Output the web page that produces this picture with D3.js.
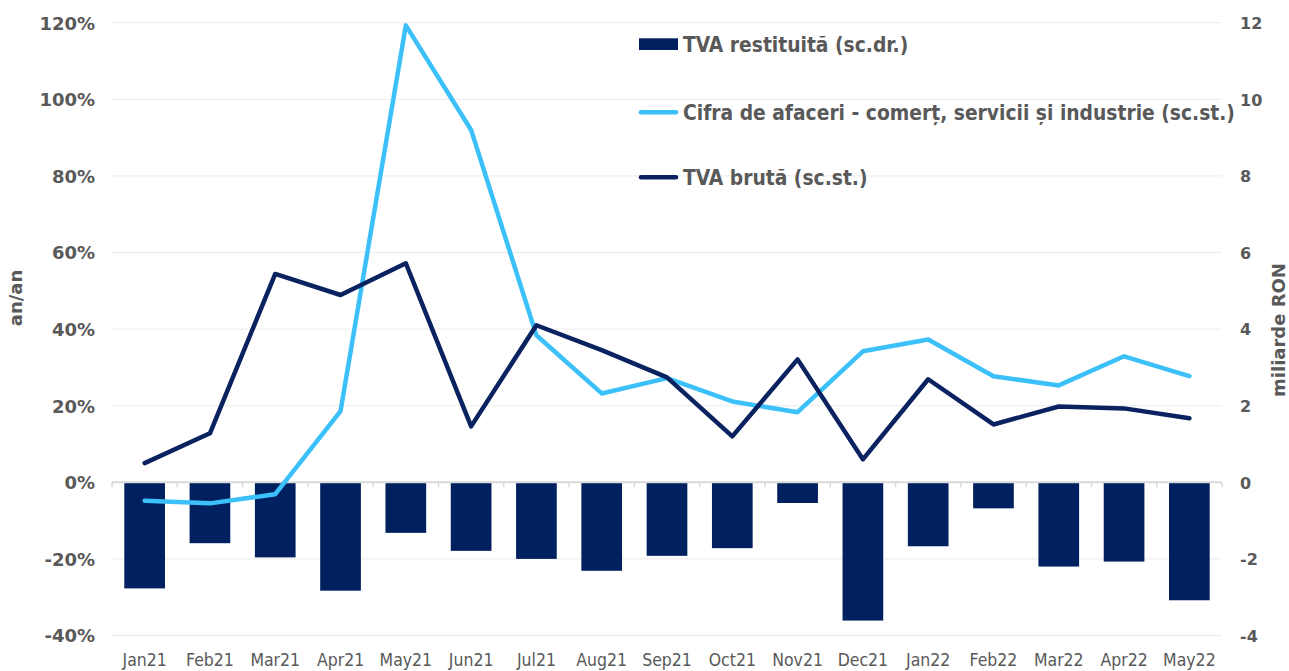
<!DOCTYPE html>
<html>
<head>
<meta charset="utf-8">
<script src="https://cdn.jsdelivr.net/npm/d3@7"></script>
<style>
  html, body { margin: 0; padding: 0; background: #fff; }
  svg { display: block; }
</style>
</head>
<body>
<svg id="chart" width="1289" height="671"></svg>
<script>
// ---- data ----
const categories = ["Jan21","Feb21","Mar21","Apr21","May21","Jun21","Jul21","Aug21","Sep21","Oct21","Nov21","Dec21","Jan22","Feb22","Mar22","Apr22","May22"];
// TVA restituită, miliarde RON (right axis)
const tvaRestituita = [-2.77,-1.59,-1.96,-2.83,-1.32,-1.79,-2.00,-2.31,-1.92,-1.72,-0.54,-3.61,-1.67,-0.68,-2.20,-2.07,-3.08];
// Cifra de afaceri, % an/an (left axis)
const cifraAfaceri = [-4.8,-5.5,-3.1,18.6,119.3,92.0,38.4,23.2,27.2,21.1,18.3,34.2,37.3,27.7,25.3,32.9,27.7];
// TVA brută, % an/an (left axis)
const tvaBruta = [5.0,12.8,54.4,48.9,57.2,14.6,41.0,34.5,27.4,12.0,32.1,6.0,26.9,15.1,19.8,19.3,16.7];
const leftTicks = [-40,-20,0,20,40,60,80,100,120];
const rightTicks = [-4,-2,0,2,4,6,8,10,12];
const seriesNames = ["TVA restituită (sc.dr.)","Cifra de afaceri - comerț, servicii și industrie (sc.st.)","TVA brută (sc.st.)"];

(function () {
// ---- styling ----
const navy = "#002060", navyLine = "#0b2260", light = "#3cc0fa", grey = "#595959";
const svg = d3.select("#chart");
const pLeft = 112, pRight = 1222, pTop = 22.7, pBottom = 635.5;

const x = d3.scaleBand().domain(categories).range([pLeft, pRight]).paddingInner(0.377).paddingOuter(0.1885);
const yL = d3.scaleLinear().domain([-40,120]).range([pBottom, pTop]);
const yR = d3.scaleLinear().domain([-4,12]).range([pBottom, pTop]);

// gridlines
svg.append("g").selectAll("line").data(leftTicks.filter(d => d !== 0)).join("line")
  .attr("x1", pLeft).attr("x2", pRight)
  .attr("y1", d => yL(d)).attr("y2", d => yL(d))
  .attr("stroke", "#efefef").attr("stroke-width", 1.3);

// left axis labels
const gL = svg.append("g").attr("transform", `translate(95,0)`)
  .call(d3.axisLeft(yL).tickValues(leftTicks).tickSize(0).tickPadding(0).tickFormat(d => d + "%"));
gL.select(".domain").remove();
gL.selectAll("text").attr("fill", grey).attr("font-family", "DejaVu Sans, sans-serif")
  .attr("font-weight", "bold").attr("font-size", 18).attr("dy", "0.36em");

// right axis labels
const gR = svg.append("g").attr("transform", `translate(1240,0)`)
  .call(d3.axisRight(yR).tickValues(rightTicks).tickSize(0).tickPadding(0).tickFormat(d => String(d)));
gR.select(".domain").remove();
gR.selectAll("text").attr("fill", grey).attr("font-family", "DejaVu Sans, sans-serif")
  .attr("font-weight", "bold").attr("font-size", 16).attr("dy", "0.36em");

// bars
svg.append("g").selectAll("rect").data(categories).join("rect")
  .attr("x", d => x(d))
  .attr("width", x.bandwidth())
  .attr("y", (d, i) => Math.min(yR(0), yR(tvaRestituita[i])))
  .attr("height", (d, i) => Math.abs(yR(tvaRestituita[i]) - yR(0)))
  .attr("fill", navy);

// zero axis line + ticks
const y0 = yL(0);
svg.append("line").attr("x1", pLeft).attr("x2", pRight).attr("y1", y0).attr("y2", y0)
  .attr("stroke", "#d9d9d9").attr("stroke-width", 2);
const step = x.step();
svg.append("g").selectAll("line").data(d3.range(categories.length + 1)).join("line")
  .attr("x1", i => pLeft + i * step).attr("x2", i => pLeft + i * step)
  .attr("y1", y0).attr("y2", y0 + 5)
  .attr("stroke", "#d9d9d9").attr("stroke-width", 1.5);

// x labels
const gX = svg.append("g").attr("transform", `translate(0,666)`)
  .call(d3.axisBottom(x).tickSize(0).tickPadding(0));
gX.select(".domain").remove();
gX.selectAll("text").attr("fill", grey).attr("font-family", "DejaVu Sans Condensed, DejaVu Sans, sans-serif")
  .attr("font-size", 17.5).attr("dy", 0);

// lines
const cx = d => x(d) + x.bandwidth() / 2;
const line = vals => d3.line().x((d, i) => cx(categories[i])).y(d => yL(d))(vals);
svg.append("path").attr("d", line(cifraAfaceri)).attr("fill", "none")
  .attr("stroke", light).attr("stroke-width", 4.5).attr("stroke-linejoin", "round").attr("stroke-linecap", "round");
svg.append("path").attr("d", line(tvaBruta)).attr("fill", "none")
  .attr("stroke", navyLine).attr("stroke-width", 4.5).attr("stroke-linejoin", "round").attr("stroke-linecap", "round");

// axis titles
svg.append("text").attr("transform", "translate(22,298) rotate(-90)")
  .attr("text-anchor", "middle").attr("fill", grey).attr("font-family", "DejaVu Sans, sans-serif")
  .attr("font-weight", "bold").attr("font-size", 18).text("an/an");
svg.append("text").attr("transform", "translate(1285,330) rotate(-90)")
  .attr("text-anchor", "middle").attr("fill", grey).attr("font-family", "DejaVu Sans, sans-serif")
  .attr("font-weight", "bold").attr("font-size", 18).text("miliarde RON");

// legend
const lg = svg.append("g");
const legendY = [44.2, 112.3, 177.3];
lg.append("rect").attr("x", 639).attr("y", 38.3).attr("width", 39).attr("height", 11.7).attr("fill", navy);
lg.append("line").attr("x1", 641).attr("x2", 676).attr("y1", legendY[1]).attr("y2", legendY[1])
  .attr("stroke", light).attr("stroke-width", 4.5).attr("stroke-linecap", "round");
lg.append("line").attr("x1", 641).attr("x2", 676).attr("y1", legendY[2]).attr("y2", legendY[2])
  .attr("stroke", navyLine).attr("stroke-width", 4.5).attr("stroke-linecap", "round");
lg.selectAll("text").data(seriesNames).join("text")
  .attr("x", 683).attr("y", (d, i) => legendY[i] + 7.8)
  .attr("fill", grey).attr("font-family", "DejaVu Sans Condensed, DejaVu Sans, sans-serif")
  .attr("font-weight", "bold").attr("font-size", 20.8).text(d => d);
})();
</script>
</body>
</html>
